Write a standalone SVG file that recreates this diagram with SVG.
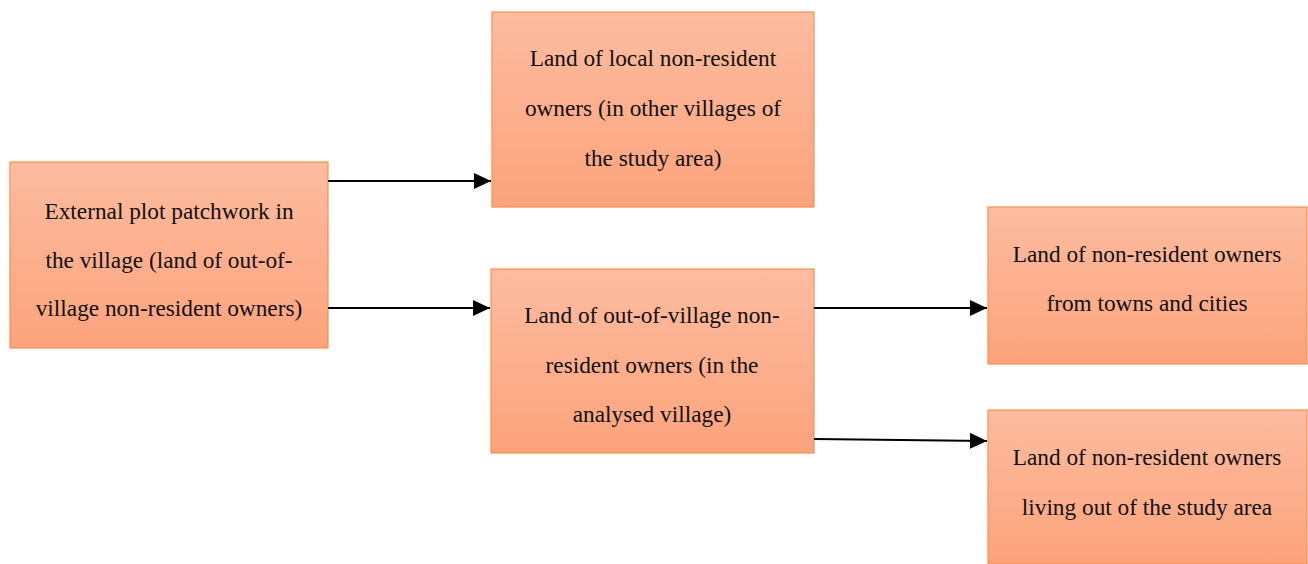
<svg xmlns="http://www.w3.org/2000/svg" width="1308" height="564" viewBox="0 0 1308 564">
<defs>
<linearGradient id="g" x1="0" y1="0" x2="0" y2="1">
<stop offset="0" stop-color="#fdbca0"/>
<stop offset="1" stop-color="#fca37c"/>
</linearGradient>
<marker id="ah" viewBox="0 0 10 10" refX="10" refY="5" markerWidth="17" markerHeight="16" markerUnits="userSpaceOnUse" orient="auto" preserveAspectRatio="none">
<path d="M0,0 L10,5 L0,10 Z" fill="#000"/>
</marker>
</defs>
<style>
.box{fill:url(#g);stroke:#f98f4e;stroke-width:1.2}
.t{font-family:"Liberation Serif","Times New Roman",serif;font-size:23.3px;fill:#111;text-anchor:middle}
.c{stroke:#000;stroke-width:2;fill:none;marker-end:url(#ah)}
</style>
<rect width="1308" height="564" fill="#fff"/>
<g id="n1">
<rect class="box" x="10" y="162" width="318" height="186"/>
<text class="t" x="169" y="219">External plot patchwork in</text>
<text class="t" x="169" y="268">the village (land of out-of-</text>
<text class="t" x="169" y="316">village non-resident owners)</text>
</g>
<g id="n2">
<rect class="box" x="492" y="12" width="322" height="195"/>
<text class="t" x="653" y="66">Land of local non-resident</text>
<text class="t" x="653" y="116">owners (in other villages of</text>
<text class="t" x="653" y="166">the study area)</text>
</g>
<g id="n3">
<rect class="box" x="491" y="269" width="323" height="184"/>
<text class="t" x="652" y="323">Land of out-of-village non-</text>
<text class="t" x="652" y="373">resident owners (in the</text>
<text class="t" x="652" y="422">analysed village)</text>
</g>
<g id="n4">
<rect class="box" x="988" y="207" width="319" height="157"/>
<text class="t" x="1147" y="262">Land of non-resident owners</text>
<text class="t" x="1147" y="311">from towns and cities</text>
</g>
<g id="n5">
<rect class="box" x="988" y="410" width="319" height="154"/>
<text class="t" x="1147" y="465">Land of non-resident owners</text>
<text class="t" x="1147" y="515">living out of the study area</text>
</g>
<g id="connectors">
<line class="c" x1="328" y1="181" x2="491" y2="181"/>
<line class="c" x1="328" y1="308" x2="490" y2="308"/>
<line class="c" x1="814" y1="308" x2="987" y2="308"/>
<line class="c" x1="814" y1="439" x2="987" y2="441"/>
</g>
</svg>
